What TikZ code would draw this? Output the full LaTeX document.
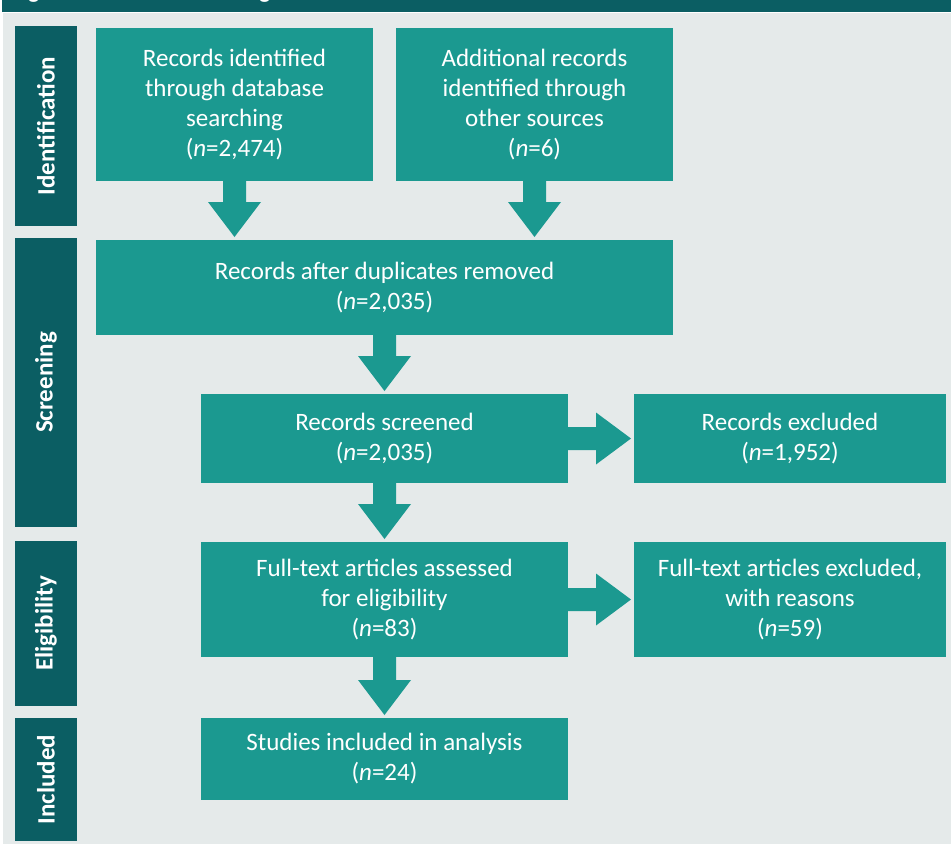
\documentclass[tikz,border=0pt]{standalone}
\usepackage{fontspec}
\setmainfont{Carlito}
\usetikzlibrary{calc}

\definecolor{boxteal}{RGB}{27,153,144}
\definecolor{darkteal}{RGB}{11,94,99}
\definecolor{panelgray}{RGB}{229,234,234}

\tikzset{
  flowbox/.style={fill=boxteal, text=white, align=center, inner sep=0pt,
    outer sep=0pt, anchor=north west, font=\fontsize{25}{30}\selectfont},
  phasebox/.style={fill=darkteal, text=white, inner sep=0pt, outer sep=0pt,
    anchor=north west, minimum width=62pt},
  phasetext/.style={text=white, rotate=90, inner sep=0pt,
    font=\fontsize{25}{30}\selectfont\bfseries},
  arrowfill/.style={fill=boxteal},
}

% block arrow pointing down, from the bottom of #1 to the top of #2
\newcommand\blockdown[2]{%
  \fill[arrowfill] let \p1=(#1.south), \p2=(#2.north) in
    (\x1-11.5pt,\y1) -- (\x1+11.5pt,\y1) -- (\x1+11.5pt,\y2+38pt)
    -- (\x1+26.5pt,\y2+38pt) -- (\x1,\y2+3pt) -- (\x1-26.5pt,\y2+38pt)
    -- (\x1-11.5pt,\y2+38pt) -- cycle;}
% block arrow pointing right, from the side of #1 to the side of #2
\newcommand\blockright[2]{%
  \fill[arrowfill] let \p1=(#1.east), \p2=(#2.west) in
    (\x1,\y1+11.5pt) -- (\x2-38pt,\y1+11.5pt) -- (\x2-38pt,\y1+26pt)
    -- (\x2-3pt,\y1) -- (\x2-38pt,\y1-26pt) -- (\x2-38pt,\y1-11.5pt)
    -- (\x1,\y1-11.5pt) -- cycle;}

\begin{document}
\begin{tikzpicture}[x=1pt, y=1pt]
  \useasboundingbox (0,0) rectangle (951,-844);

  % header bar with its title, cut at the top edge
  \fill[darkteal] (2,0) rectangle (951,-12);
  \begin{scope}
    \clip (2,0) rectangle (951,-12);
    \node[anchor=base west, inner sep=0pt, text=white,
      font=\fontsize{23}{27}\selectfont\bfseries] (title) at (12,1.5)
      {Figure 1: PRISMA flow diagram};
  \end{scope}

  % panel background
  \fill[panelgray] (3,-13) rectangle (951,-844);

  % phase labels
  \node[phasebox, minimum height=200pt] (ident) at (15,-26) {};
  \node[phasetext] at (ident.center) {Identification};
  \node[phasebox, minimum height=289pt] (screen) at (15,-238) {};
  \node[phasetext] at (screen.center) {Screening};
  \node[phasebox, minimum height=165pt] (elig) at (15,-541) {};
  \node[phasetext] at (elig.center) {Eligibility};
  \node[phasebox, minimum height=123pt] (incl) at (15,-718) {};
  \node[phasetext] at (incl.center) {Included};

  % flow boxes
  \node[flowbox, minimum width=277pt, minimum height=153pt] (db) at (96,-28)
    {Records identified\\through database\\searching\\(\textit{n}=2,474)};
  \node[flowbox, minimum width=277pt, minimum height=153pt] (other) at (396,-28)
    {Additional records\\identified through\\other sources\\(\textit{n}=6)};
  \node[flowbox, minimum width=577pt, minimum height=95pt] (dedup) at (96,-240)
    {Records after duplicates removed\\(\textit{n}=2,035)};
  \node[flowbox, minimum width=367pt, minimum height=89pt] (screened) at (201,-394)
    {Records screened\\(\textit{n}=2,035)};
  \node[flowbox, minimum width=312pt, minimum height=89pt] (excluded) at (634,-394)
    {Records excluded\\(\textit{n}=1,952)};
  \node[flowbox, minimum width=367pt, minimum height=115pt] (fulltext) at (201,-542)
    {Full-text articles assessed\\for eligibility\\(\textit{n}=83)};
  \node[flowbox, minimum width=312pt, minimum height=115pt] (ftexcl) at (634,-542)
    {Full-text articles excluded,\\with reasons\\(\textit{n}=59)};
  \node[flowbox, minimum width=367pt, minimum height=82pt] (studies) at (201,-718)
    {Studies included in analysis\\(\textit{n}=24)};

  % connectors
  \blockdown{db}{dedup}
  \blockdown{other}{dedup}
  \blockdown{dedup}{screened}
  \blockdown{screened}{fulltext}
  \blockdown{fulltext}{studies}
  \blockright{screened}{excluded}
  \blockright{fulltext}{ftexcl}
\end{tikzpicture}
\end{document}
